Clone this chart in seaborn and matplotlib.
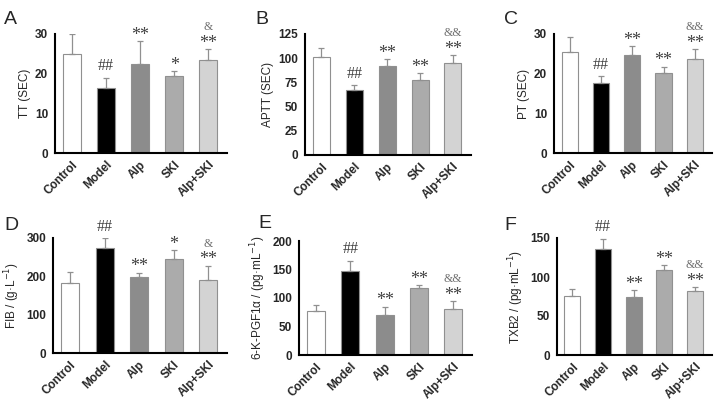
import numpy as np
import pandas as pd
import matplotlib
matplotlib.use('Agg')
import matplotlib.pyplot as plt
import seaborn as sns
sns.set_style('white')
plt.rcParams['font.family'] = ['Liberation Sans', 'DejaVu Sans']

# Data (bar mean and top of the error bar)
groups = ['Control', 'Model', 'Alp', 'SKI', 'Alp+SKI']
colors = ['#ffffff', '#000000', '#8c8c8c', '#ababab', '#d3d3d3']

tt_mean = [25.0, 16.5, 22.5, 19.3, 23.4]
tt_top = [30.0, 19.0, 28.3, 20.7, 26.1]
aptt_mean = [101, 67, 91.5, 77.5, 95]
aptt_top = [111, 72, 99, 84.5, 103]
pt_mean = [25.5, 17.6, 24.8, 20.1, 23.6]
pt_top = [29.3, 19.4, 27.0, 21.8, 26.2]
fib_mean = [183, 275, 197, 245, 190]
fib_top = [212, 300, 210, 268, 228]
pgf_mean = [77, 147, 70, 118, 80]
pgf_top = [87, 165, 85, 122, 94]
txb_mean = [76, 136, 75, 109, 82]
txb_top = [84.5, 149, 83.5, 115.5, 87.5]

# significance marks: first row above the bar, second row on top of it
sig_tt = ['', '##', '**', '*', '**']
amp_tt = ['', '', '', '', '&']
sig_aptt = ['', '##', '**', '**', '**']
amp_aptt = ['', '', '', '', '&&']
sig_pt = ['', '##', '**', '**', '**']
amp_pt = ['', '', '', '', '&&']
sig_fib = ['', '##', '**', '*', '**']
amp_fib = ['', '', '', '', '&']
sig_pgf = ['', '##', '**', '**', '**']
amp_pgf = ['', '', '', '', '&&']
sig_txb = ['', '##', '**', '**', '**']
amp_txb = ['', '', '', '', '&&']

panels = [
    ('A', 'TT (SEC)', tt_mean, tt_top, sig_tt, amp_tt, [0, 10, 20, 30], 30),
    ('B', 'APTT (SEC)', aptt_mean, aptt_top, sig_aptt, amp_aptt, [0, 25, 50, 75, 100, 125], 125),
    ('C', 'PT (SEC)', pt_mean, pt_top, sig_pt, amp_pt, [0, 10, 20, 30], 30),
    ('D', 'FIB / (g·L$^{-1}$)', fib_mean, fib_top, sig_fib, amp_fib, [0, 100, 200, 300], 300),
    ('E', '6-K-PGF1α / (pg·mL$^{-1}$)', pgf_mean, pgf_top, sig_pgf, amp_pgf, [0, 50, 100, 150, 200], 200),
    ('F', 'TXB2 / (pg·mL$^{-1}$)', txb_mean, txb_top, sig_txb, amp_txb, [0, 50, 100, 150], 150),
]

W, H = 714, 405
# axes boxes in pixels: left, right, top, bottom
boxes = [(55, 227, 34, 153), (305, 471, 34, 155), (554, 712, 34, 153),
         (53, 227, 238, 353), (299, 472, 241, 355), (557, 712, 238, 355)]
letter_pos = [(4, 24), (255, 24), (504, 24), (4, 230), (258, 228), (504, 230)]

fig = plt.figure(figsize=(W / 100, H / 100), dpi=100)

for (letter, ylab, mean, top, sig, amp, yt, ymax), box, lp in zip(panels, boxes, letter_pos):
    l, r, t, b = box
    ax = fig.add_axes([l / W, 1 - b / H, (r - l) / W, (b - t) / H])
    df = pd.DataFrame({'group': groups, 'value': mean})
    sns.barplot(data=df, x='group', y='value', hue='group', palette=colors,
                legend=False, width=0.52, edgecolor='#909090', linewidth=0.8, ax=ax)
    x = np.arange(len(groups))
    err = np.array(top) - np.array(mean)
    ax.errorbar(x, mean, yerr=[np.zeros(len(x)), err], fmt='none',
                ecolor='#909090', elinewidth=0.9, capsize=2.5, capthick=0.9)
    for i in range(len(groups)):
        if sig[i]:
            fs = 11.5 if sig[i] == '##' else 13
            dy = 2.5 if sig[i] == '##' else -2
            ax.annotate(sig[i], (x[i], top[i]), xytext=(0, dy), textcoords='offset points',
                        ha='center', va='bottom', fontsize=fs, color='#404040',
                        family='Liberation Serif', annotation_clip=False)
        if amp[i]:
            ax.annotate(amp[i], (x[i], top[i]), xytext=(0, 11.5), textcoords='offset points',
                        ha='center', va='bottom', fontsize=8.5, color='#707070',
                        family='Liberation Serif', annotation_clip=False)
    ax.set_xlim(-0.5, 4.55)
    ax.set_ylim(0, ymax)
    ax.set_yticks(yt)
    ax.set_xticks(x)
    ax.set_xticklabels(groups, rotation=45, ha='right', rotation_mode='anchor',
                       fontsize=8.5, fontweight='bold')
    ax.set_xticks(np.arange(-0.5, 5, 1), minor=True)
    ax.tick_params(axis='x', which='major', length=0, pad=4)
    ax.tick_params(axis='x', which='minor', length=3, width=1.2, direction='out')
    ax.tick_params(axis='y', length=3, width=1.2, direction='out', labelsize=8.5, pad=2)
    for lab in ax.get_yticklabels():
        lab.set_fontweight('bold')
    ax.set_xlabel('')
    ax.set_ylabel(ylab, fontsize=8.5, labelpad=3)
    for s in ['top', 'right']:
        ax.spines[s].set_visible(False)
    for s in ['left', 'bottom']:
        ax.spines[s].set_color('black')
        ax.spines[s].set_linewidth(1.5)
    fig.text(lp[0] / W, 1 - lp[1] / H, letter, fontsize=14)

fig.savefig('out.png', dpi=100)
